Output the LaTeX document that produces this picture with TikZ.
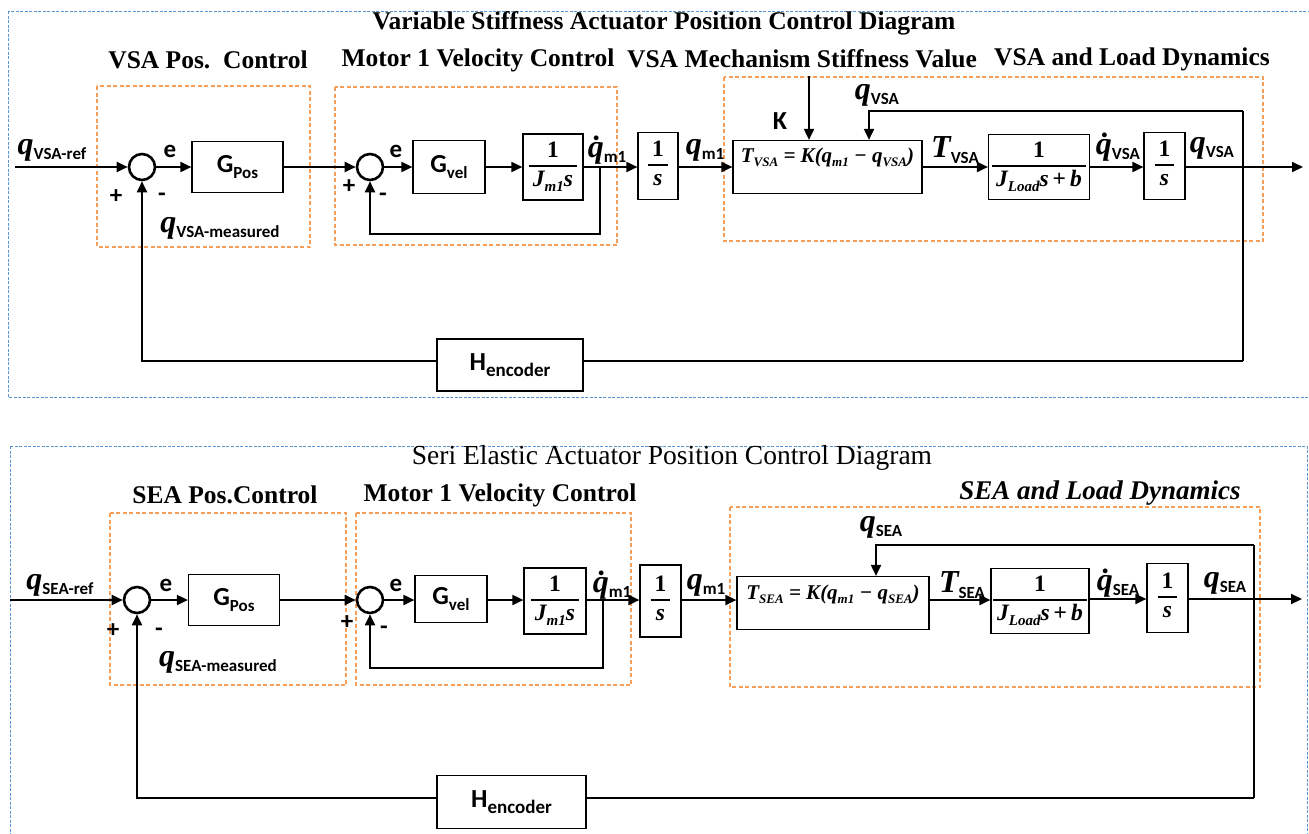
\documentclass[tikz,border=0pt]{standalone}
\usepackage{fontspec}
\usetikzlibrary{arrows.meta,calc}
\setmainfont{Liberation Serif}
\newfontfamily\sfc{Carlito}
\definecolor{grporange}{RGB}{247,158,88}
\definecolor{frmblue}{RGB}{91,150,210}
\newcommand\qi[1]{{\rmfamily\bfseries\itshape #1}}
\newcommand\sbs[2][17]{\raisebox{-0.45ex}{\sfc\bfseries\fontsize{#1}{#1}\selectfont #2}}
\newcommand\msb[2][15]{\raisebox{-0.45ex}{\rmfamily\bfseries\itshape\fontsize{#1}{#1}\selectfont #2}}
\newcommand\sym[2]{{\fontsize{32}{32}\selectfont\qi{#1}}\sbs{#2}}
\newcommand\frc[2]{{\rmfamily\bfseries\fontsize{23.5}{25}\selectfont\begin{tabular}{@{\,}c@{\,}}#1\\[0pt]\hline\noalign{\vskip 2pt}#2\end{tabular}}}
\newcommand\eqtxt[2]{{\rmfamily\bfseries\itshape\fontsize{21}{21}\selectfont T\msb[13]{#1} = K(q\msb[13]{m1} \textminus{} q\msb[13]{#2})}}
\setlength\arrayrulewidth{1.3pt}
\tikzset{
 blk/.style={draw, line width=1.2pt, inner sep=0pt, font=\sfc\bfseries\fontsize{26}{28}\selectfont},
 sumc/.style={circle, draw, line width=2.6pt, minimum size=26pt, inner sep=0pt},
 wire/.style={line width=1.9pt},
 arr/.style={wire, -{Triangle[length=11pt,width=10pt]}},
 grp/.style={draw=grporange, line width=1.1pt, dash pattern=on 4pt off 2.5pt},
 frm/.style={draw=frmblue, line width=0.9pt, dash pattern=on 3pt off 1.5pt},
 ttl/.style={inner sep=0pt, font=\rmfamily\bfseries\fontsize{25.5}{27}\selectfont},
 lbl/.style={inner sep=0pt, font=\sfc\bfseries\fontsize{25}{27}\selectfont},
}
\begin{document}
\begin{tikzpicture}[x=1pt,y=-1pt]
\useasboundingbox (0,0) rectangle (1309,833);
% frames
\draw[frm] (8,11) rectangle (1315,397);
\draw[frm] (10,446) rectangle (1307,845);
% ===================== TOP =====================
\node[ttl] (tt) at (664,23) {Variable Stiffness Actuator Position Control Diagram};
\node[ttl] (tsa) at (208,60) {VSA Pos.\ \ Control};
\node[ttl] (tsb) at (478,60) {Motor 1 Velocity Control};
\node[ttl] (tsc) at (802,59) {VSA Mechanism Stiffness Value};
\node[ttl] (tsd) at (1132,59) {VSA and Load Dynamics};
\draw[grp] (97,86) rectangle (310,247);
\draw[grp] (335,87) rectangle (617,245);
\draw[grp] (724,77) rectangle (1263,241);

\coordinate (tin) at (15,167);
\node[sumc] (ts1) at (142,167) {};
\node[blk, minimum width=91pt, minimum height=51pt] (tgp) at (237.5,167) {G\sbs{Pos}};
\node[sumc] (ts2) at (370,167) {};
\node[blk, minimum width=72pt, minimum height=53pt] (tgv) at (449,167) {G\sbs{vel}};
\node[blk, minimum width=60pt, minimum height=66pt] (tj) at (553,167) {\frc{1}{\qi{J}\msb{m1}\qi{s}}};
\coordinate (tvb) at (600,167);
\coordinate (tvl) at (600,234);
\node[blk, minimum width=40pt, minimum height=67pt] (ti1) at (658,166) {\frc{1}{\qi{s}}};
\node[blk, minimum width=189pt, minimum height=53pt] (tT) at (827.5,167) {};
\node[inner sep=0pt] (tTx) at (827.5,157) {\eqtxt{VSA}{VSA}};
\node[blk, minimum width=101pt, minimum height=65pt] (tjl) at (1039,167) {\frc{1}{\qi{J}\msb{Load}\qi{s}\,+\,\qi{b}}};
\node[blk, minimum width=41pt, minimum height=67pt] (ti2) at (1164.5,166) {\frc{1}{\qi{s}}};
\coordinate (tout) at (1303,167);
\coordinate (tfbt) at (1243,111);
\coordinate (tfbb) at (1243,361);
\coordinate (tqx) at (869,111);
\coordinate (tkin) at (809,76);
\node[blk, minimum width=146pt, minimum height=52pt] (th) at (510,365) {H\sbs[19]{encoder}};

\draw[arr] (tin) -- (ts1.west);
\draw[arr] (ts1.east) -- (tgp.west);
\draw[arr] (tgp.east) -- (ts2.west);
\draw[arr] (ts2.east) -- (tgv.west);
\draw[arr] (tgv.east) -- (tj.west);
\draw[arr] (tj.east) -- (ti1.west |- tj.east);
\draw[arr] (ti1.east |- tT.west) -- (tT.west);
\draw[arr] (tT.east) -- (tjl.west);
\draw[arr] (tjl.east) -- (ti2.west |- tjl.east);
\draw[arr] (ti2.east |- tout) -- (tout);
\draw[arr] (tvb) -- (tvl) -| (ts2.south);
\draw[wire] (tfbt) -- (tfbb);
\draw[wire] (tfbb) -- (tfbb -| th.east);
\draw[arr] (th.west |- tfbb) -| (ts1.south);
\draw[arr] (tfbt) -- (tqx) -- (tqx |- tT.north);
\draw[arr] (tkin) -- (tkin |- tT.north);

\node[lbl] (tlref) at (52,150) {\sym{q}{VSA-ref}};
\node[lbl] (te1) at (170,151) {e};
\node[lbl] (tp1) at (116,197) {+};
\node[lbl] (tm1) at (162,197) {-};
\node[lbl] (tlmeas) at (220,228) {\sym{q}{VSA-measured}};
\node[lbl] (te2) at (396,151) {e};
\node[lbl] (tp2) at (349,187) {+};
\node[lbl] (tm2) at (383,197) {-};
\node[lbl] (tldq) at (607,150) {\sym{\.q}{m1}};
\node[lbl] (tlq) at (705,150) {\sym{q}{m1}};
\node[lbl, font=\sfc\bfseries\fontsize{26}{28}\selectfont] (tlk) at (780,121) {K};
\node[lbl] (tlqf) at (877,95) {\sym{q}{VSA}};
\node[lbl] (tlT) at (955,150) {\sym{T}{VSA}};
\node[lbl] (tldqv) at (1118,147) {\sym{\.q}{VSA}};
\node[lbl] (tlqo) at (1212,148) {\sym{q}{VSA}};

% ===================== BOTTOM =====================
\node[ttl, font=\rmfamily\fontsize{27.5}{29}\selectfont] (bt) at (672,458) {Seri Elastic Actuator Position Control Diagram};
\node[ttl] (bsa) at (225,495) {SEA Pos.Control};
\node[ttl] (bsb) at (500,495) {Motor 1 Velocity Control};
\node[ttl, font=\rmfamily\bfseries\itshape\fontsize{27}{29}\selectfont] (bsd) at (1100,493) {SEA and Load Dynamics};
\draw[grp] (110,513) rectangle (346,685);
\draw[grp] (356,513) rectangle (631,685);
\draw[grp] (730,507) rectangle (1260,687);

\coordinate (bin) at (10,600);
\node[sumc] (bs1) at (137,600) {};
\node[blk, minimum width=91pt, minimum height=51pt] (bgp) at (234,600) {G\sbs{Pos}};
\node[sumc] (bs2) at (370,600) {};
\node[blk, minimum width=72pt, minimum height=47pt] (bgv) at (451,599) {G\sbs{vel}};
\node[blk, minimum width=62pt, minimum height=66pt] (bj) at (555,601) {\frc{1}{\qi{J}\msb{m1}\qi{s}}};
\coordinate (bvb) at (603,600);
\coordinate (bvl) at (603,668);
\node[blk, minimum width=41pt, minimum height=72pt] (bi1) at (660.5,601) {\frc{1}{\qi{s}}};
\node[blk, minimum width=192pt, minimum height=53pt] (bT) at (833,603) {};
\node[inner sep=0pt] (bTx) at (833,594) {\eqtxt{SEA}{SEA}};
\node[blk, minimum width=98pt, minimum height=65pt] (bjl) at (1040,601) {\frc{1}{\qi{J}\msb{Load}\qi{s}\,+\,\qi{b}}};
\node[blk, minimum width=41pt, minimum height=69pt] (bi2) at (1167.5,598) {\frc{1}{\qi{s}}};
\coordinate (bout) at (1302,599);
\coordinate (bfbt) at (1254,545);
\coordinate (bfbb) at (1254,798);
\coordinate (bqx) at (876,545);
\node[blk, minimum width=149pt, minimum height=53pt] (bh) at (511.5,802) {H\sbs[19]{encoder}};

\draw[arr] (bin) -- (bs1.west);
\draw[arr] (bs1.east) -- (bgp.west);
\draw[arr] (bgp.east) -- (bs2.west);
\draw[arr] (bs2.east) -- (bgv.west |- bs2.east);
\draw[arr] (bgv.east |- bs2.east) -- (bj.west |- bs2.east);
\draw[arr] (bj.east |- bs2.east) -- (bi1.west |- bs2.east);
\draw[arr] (bi1.east |- bs2.east) -- (bT.west |- bs2.east);
\draw[arr] (bT.east |- bs2.east) -- (bjl.west |- bs2.east);
\draw[arr] (bjl.east |- bout) -- (bi2.west |- bout);
\draw[arr] (bi2.east |- bout) -- (bout);
\draw[arr] (bvb) -- (bvl) -| (bs2.south);
\draw[wire] (bfbt) -- (bfbb);
\draw[wire] (bfbb) -- (bfbb -| bh.east);
\draw[arr] (bh.west |- bfbb) -| (bs1.south);
\draw[arr] (bfbt) -- (bqx) -- (bqx |- bT.north);

\node[lbl] (blref) at (60,585) {\sym{q}{SEA-ref}};
\node[lbl] (be1) at (166,585) {e};
\node[lbl] (bp1) at (113,631) {+};
\node[lbl] (bm1) at (159,632) {-};
\node[lbl] (blmeas) at (218,662) {\sym{q}{SEA-measured}};
\node[lbl] (be2) at (396,585) {e};
\node[lbl] (bp2) at (347,623) {+};
\node[lbl] (bm2) at (384,630) {-};
\node[lbl] (bldq) at (612,585) {\sym{\.q}{m1}};
\node[lbl] (blq) at (706,585) {\sym{q}{m1}};
\node[lbl] (blqf) at (881,527) {\sym{q}{SEA}};
\node[lbl] (blT) at (962,585) {\sym{T}{SEA}};
\node[lbl] (bldqs) at (1118,583) {\sym{\.q}{SEA}};
\node[lbl] (blqo) at (1225,583) {\sym{q}{SEA}};
\end{tikzpicture}
\end{document}
